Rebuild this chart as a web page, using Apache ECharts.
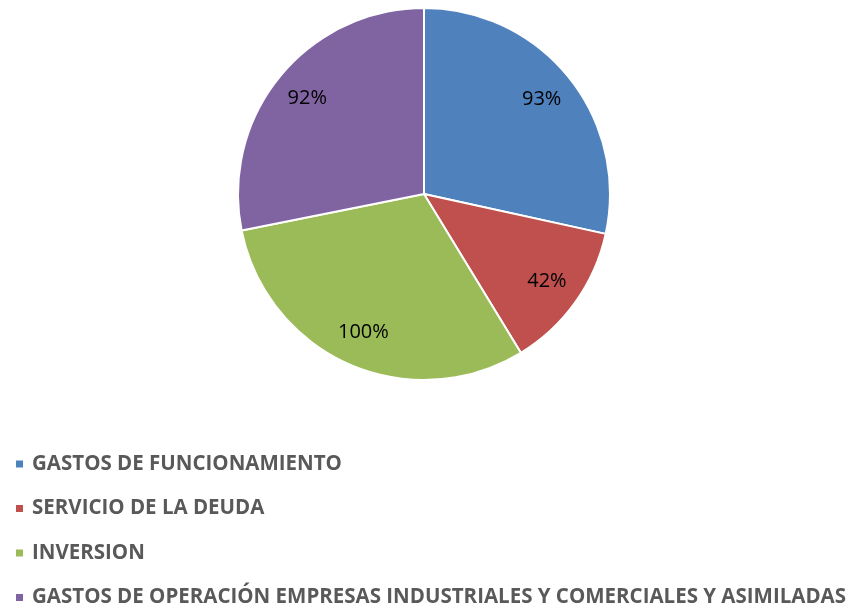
<!DOCTYPE html>
<html>
<head>
<meta charset="utf-8">
<script src="https://cdn.jsdelivr.net/npm/echarts@6/dist/echarts.min.js"></script>
<style>
  html, body { margin: 0; padding: 0; background: #fff; }
  #chart { width: 849px; height: 608px; }
</style>
</head>
<body>
<div id="chart"></div>
<script>
// datos del gráfico
var categories = ['GASTOS DE FUNCIONAMIENTO', 'SERVICIO DE LA DEUDA', 'INVERSION',
  'GASTOS DE OPERACIÓN EMPRESAS INDUSTRIALES Y COMERCIALES Y ASIMILADAS'];
var values = [93, 42, 100, 92];
var colors = ['#4F81BD', '#C0504D', '#9BBB59', '#8064A2'];

var pieData = categories.map(function (name, i) {
  return { name: name, value: values[i] };
});

var chart = echarts.init(document.getElementById('chart'));
chart.setOption({
  animation: false,
  color: colors,
  legend: {
    orient: 'vertical',
    left: 14,
    top: 453,
    height: 160,
    padding: 0,
    icon: 'rect',
    itemWidth: 9,
    itemHeight: 9,
    itemGap: 22.5,
    textStyle: {
      fontFamily: 'Open Sans',
      fontWeight: 'bold',
      fontSize: 20.5,
      lineHeight: 22,
      color: '#595959',
      padding: [0, 0, 0, 3]
    },
    data: categories
  },
  series: [
    {
      type: 'pie',
      center: [424, 194],
      radius: 186,
      startAngle: 90,
      clockwise: true,
      itemStyle: { borderColor: '#fff', borderWidth: 2 },
      label: { show: false },
      labelLine: { show: false },
      data: pieData
    },
    {
      // solo etiquetas, a 0.8 del radio
      type: 'pie',
      center: [424, 194],
      radius: [110, 186],
      startAngle: 90,
      clockwise: true,
      silent: true,
      legendHoverLink: false,
      itemStyle: { color: 'rgba(0,0,0,0)' },
      label: {
        show: true,
        position: 'inside',
        formatter: '{c}%',
        fontFamily: 'Open Sans',
        fontSize: 20,
        color: '#000'
      },
      labelLine: { show: false },
      data: pieData
    }
  ]
});
</script>
</body>
</html>
